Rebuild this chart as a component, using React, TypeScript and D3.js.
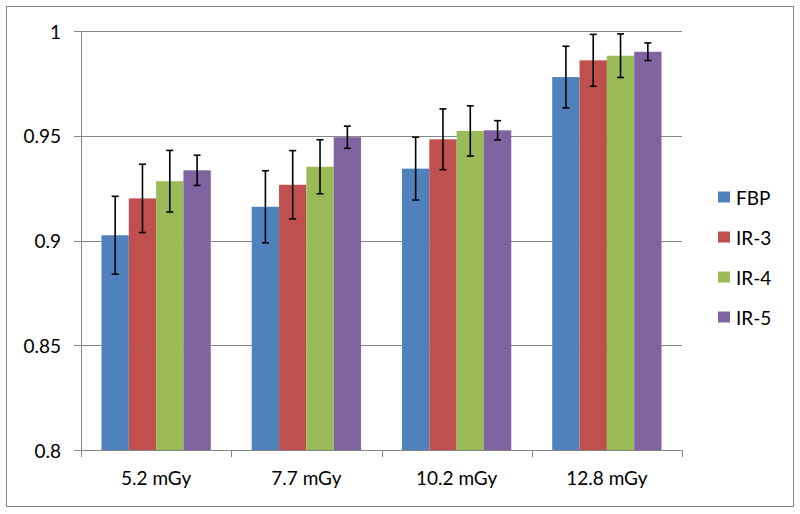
import React from "react";
import * as d3 from "d3";

const categories = ["5.2 mGy", "7.7 mGy", "10.2 mGy", "12.8 mGy"];
const seriesNames = ["FBP", "IR-3", "IR-4", "IR-5"];
const seriesColors = ["#4F81BD", "#C0504D", "#9BBB59", "#8064A2"];
const fbp = [0.9025, 0.9161, 0.9343, 0.978];
const ir3 = [0.9201, 0.9266, 0.9483, 0.986];
const ir4 = [0.9283, 0.9352, 0.9523, 0.9882];
const ir5 = [0.9335, 0.9493, 0.9526, 0.9901];
const fbpErr = [0.0186, 0.0172, 0.015, 0.0147];
const ir3Err = [0.0163, 0.0163, 0.0145, 0.0124];
const ir4Err = [0.0147, 0.0129, 0.012, 0.0104];
const ir5Err = [0.0072, 0.0053, 0.0046, 0.0042];
const yTicks = [0.8, 0.85, 0.9, 0.95, 1];
const yTickLabels = ["0.8", "0.85", "0.9", "0.95", "1"];

const values = [fbp, ir3, ir4, ir5];
const errors = [fbpErr, ir3Err, ir4Err, ir5Err];

export default function App() {
  const W = 800, H = 514;
  const left = 81, right = 682, top = 31, bottom = 450;
  const font = "Lato, 'Open Sans', sans-serif";
  const fs = 19;
  const grid = "#868686";

  const y = d3.scaleLinear().domain([0.8, 1]).range([bottom, top]);
  const x0 = d3.scaleBand().domain(categories).range([left, right]).paddingInner(0).paddingOuter(0);
  const bw = x0.bandwidth();
  const groupW = bw / (4 + 1.5) * 4;
  const x1 = d3.scaleBand().domain(seriesNames).range([(bw - groupW) / 2, (bw + groupW) / 2]).padding(0);
  const cap = 3.5;

  return (
    <svg width={W} height={H} style={{ position: "absolute", left: 0, top: 0, background: "#fff" }}>
      <rect x={6.5} y={6.5} width={787} height={500} fill="#fff" stroke={grid} strokeWidth={1} />
      {yTicks.map((t, i) => (
        <g key={t}>
          <line x1={left - 7} x2={right} y1={Math.round(y(t)) + 0.5} y2={Math.round(y(t)) + 0.5} stroke={grid} strokeWidth={1} />
          <text x={61} y={y(t) + 1} dy="0.35em" textAnchor="end" fontFamily={font} fontSize={fs} fill="#000">{yTickLabels[i]}</text>
        </g>
      ))}
      <line x1={left + 0.5} x2={left + 0.5} y1={top} y2={bottom} stroke={grid} />
      {categories.map((c, ci) => (
        <g key={c} transform={`translate(${x0(c)},0)`}>
          {seriesNames.map((s, si) => {
            const v = values[si][ci];
            const e = errors[si][ci];
            const bx = x1(s)!;
            const cx = bx + x1.bandwidth() / 2;
            return (
              <g key={s}>
                <rect x={bx} y={y(v)} width={x1.bandwidth()} height={bottom - y(v)} fill={seriesColors[si]} />
                <line x1={cx} x2={cx} y1={y(v + e)} y2={y(v - e)} stroke="#000" strokeWidth={1.6} />
                <line x1={cx - cap} x2={cx + cap} y1={y(v + e)} y2={y(v + e)} stroke="#000" strokeWidth={1.6} />
                <line x1={cx - cap} x2={cx + cap} y1={y(v - e)} y2={y(v - e)} stroke="#000" strokeWidth={1.6} />
              </g>
            );
          })}
          <text x={bw / 2} y={485} textAnchor="middle" fontFamily={font} fontSize={fs} fill="#000">{c}</text>
        </g>
      ))}
      <line x1={left} x2={right} y1={bottom + 0.5} y2={bottom + 0.5} stroke={grid} />
      {[...categories.map((c) => x0(c)!), right].map((tx, i) => (
        <line key={i} x1={Math.round(tx) + 0.5} x2={Math.round(tx) + 0.5} y1={bottom} y2={bottom + 7} stroke={grid} />
      ))}
      {seriesNames.map((s, i) => (
        <g key={s} transform={`translate(718,${197 + i * 40})`}>
          <rect x={0} y={-5.5} width={12} height={11} fill={seriesColors[i]} />
          <text x={18} y={1} dy="0.35em" fontFamily={font} fontSize={fs} fill="#000">{s}</text>
        </g>
      ))}
    </svg>
  );
}
